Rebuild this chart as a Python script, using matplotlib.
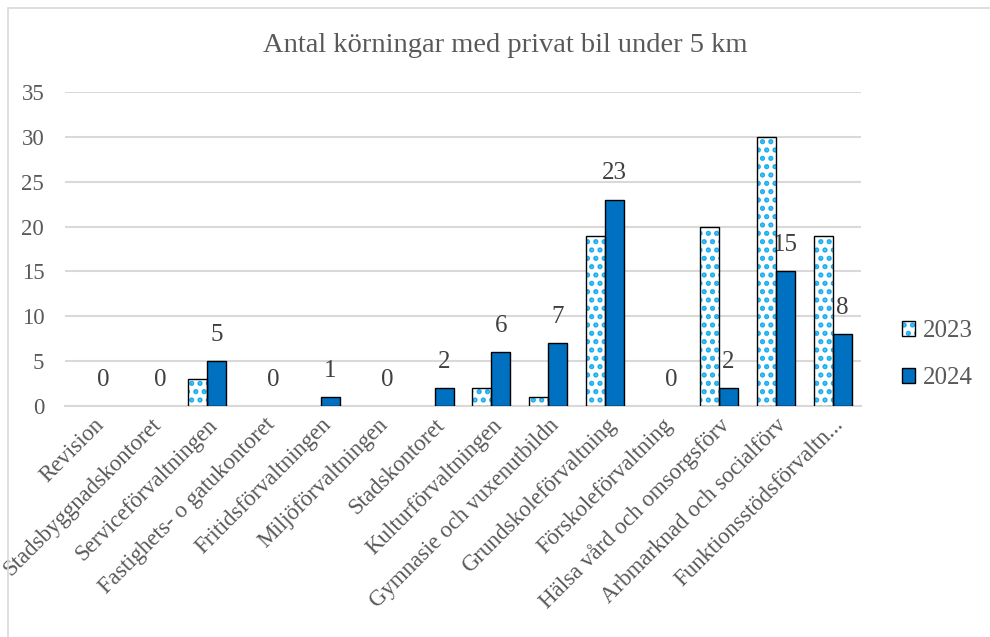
import matplotlib.pyplot as plt
import matplotlib.patches as mpatches
import numpy as np

plt.rcParams['font.family'] = ['Liberation Serif', 'DejaVu Serif']
plt.rcParams['hatch.linewidth'] = 2.5

categories = ['Revision', 'Stadsbyggnadskontoret', 'Serviceförvaltningen',
              'Fastighets- o gatukontoret', 'Fritidsförvaltningen',
              'Miljöförvaltningen', 'Stadskontoret', 'Kulturförvaltningen',
              'Gymnasie och vuxenutbildn', 'Grundskoleförvaltning',
              'Förskoleförvaltning', 'Hälsa vård och omsorgsförv',
              'Arbmarknad och socialförv', 'Funktionsstödsförvaltn...']
values_2023 = [0, 0, 3, 0, 0, 0, 0, 2, 1, 19, 0, 20, 30, 19]
values_2024 = [0, 0, 5, 0, 1, 0, 2, 6, 7, 23, 0, 2, 15, 8]

light_blue = '#1AAEEF'
dark_blue = '#0070C0'
grid_gray = '#D9D9D9'
text_gray = '#595959'

fig = plt.figure(figsize=(9.9, 6.37), dpi=100)
ax = fig.add_axes([0.0657, 0.3626, 0.804, 0.493])

# outer chart border
fig.patches.append(mpatches.Rectangle((8 / 990, -0.1), 1.2, 1 - 8 / 637 + 0.1,
                                      transform=fig.transFigure, fill=False,
                                      edgecolor=grid_gray, linewidth=1.2))

x = np.arange(len(categories))
w = 0.335

# zero-height bars get no outline
edges_2023 = ['black' if v > 0 else 'none' for v in values_2023]
edges_2024 = ['black' if v > 0 else 'none' for v in values_2024]

# 2023: dotted pattern bars
ax.bar(x - w / 2, values_2023, w, color='white', edgecolor=light_blue,
       linewidth=0, hatch='..', zorder=3)
ax.bar(x - w / 2, values_2023, w, fill=False, edgecolor=edges_2023,
       linewidth=1.0, zorder=4)
ax.bar(x + w / 2, values_2024, w, color=dark_blue, edgecolor=edges_2024,
       linewidth=1.0, zorder=3)

for xi, v in zip(x, values_2024):
    ax.annotate(str(v), (xi + w / 2, v), xytext=(0, 19), textcoords='offset points',
                ha='center', va='center', fontsize=18, color='#404040')

ax.set_xlim(-0.5, len(categories) - 0.5)
ax.set_ylim(0, 35)
ax.set_yticks(np.arange(0, 36, 5))
ax.yaxis.grid(True, color=grid_gray, linewidth=1.5, zorder=0)
ax.set_axisbelow(True)
for s in ['top', 'right', 'left']:
    ax.spines[s].set_visible(False)
ax.spines['bottom'].set_color(grid_gray)
ax.spines['bottom'].set_linewidth(1.5)
ax.tick_params(axis='both', length=0, labelsize=16.5, colors=text_gray)
ax.tick_params(axis='y', pad=15)
ax.tick_params(axis='x', pad=6)
ax.set_xticks(x)
ax.set_xticklabels(categories, rotation=45, ha='right', rotation_mode='anchor')

fig.text(0.51, 0.928, 'Antal körningar med privat bil under 5 km',
         ha='center', va='center', fontsize=20.5, color=text_gray)

h1 = mpatches.Patch(facecolor='white', edgecolor=light_blue, hatch='..', linewidth=0)
h1b = mpatches.Patch(fill=False, edgecolor='black', linewidth=1.0)
h2 = mpatches.Patch(facecolor=dark_blue, edgecolor='black', linewidth=1.0)
leg = fig.legend([(h1, h1b), h2], ['2023', '2024'], loc='center left',
                 bbox_to_anchor=(0.888, 0.443), frameon=False, fontsize=18,
                 handlelength=0.55, handleheight=0.55, handletextpad=0.3,
                 labelspacing=1.0, labelcolor=text_gray)

fig.savefig('out.png', dpi=100)
